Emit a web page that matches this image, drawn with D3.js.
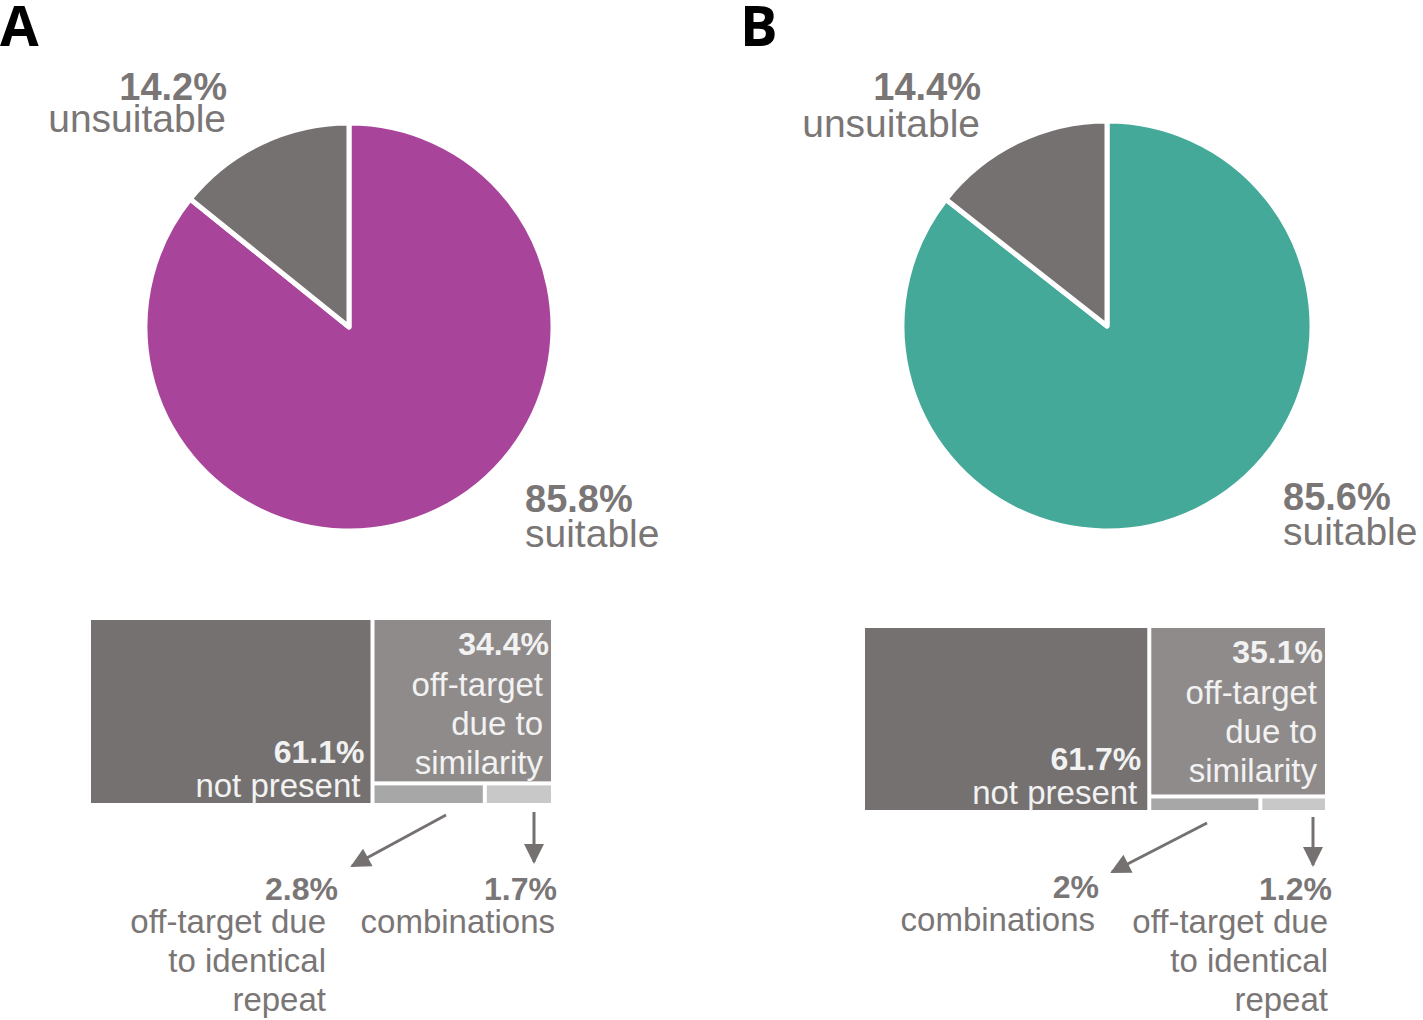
<!DOCTYPE html>
<html>
<head>
<meta charset="utf-8">
<script src="https://cdn.jsdelivr.net/npm/d3@7"></script>
<style>
  html, body { margin: 0; padding: 0; background: #fff; }
  svg { display: block; }
  text { font-family: "Liberation Sans", Arial, sans-serif; }
</style>
</head>
<body>
<svg id="chart" width="1423" height="1020"></svg>
<script>
// ---------------- data ----------------
const panelLetters = ["A", "B"];
const pieCategories = ["suitable", "unsuitable"];
const suitableValues = [85.8, 85.6];
const unsuitableValues = [14.2, 14.4];
const pieColors = ["#A8449A", "#45A99A"];

const notPresentValues = [61.1, 61.7];
const similarityValues = [34.4, 35.1];
const identicalValues = [2.8, 1.2];
const combinationValues = [1.7, 2.0];

const identicalLabel = ["off-target due", "to identical", "repeat"];
const combinationLabel = ["combinations"];
const similarityLabel = ["off-target", "due to", "similarity"];
const notPresentLabel = ["not present"];

// ---------------- layout ----------------
const GRAY = "#757171";
const TEXT_GRAY = "#7a7676";
const layout = [
  { letterX: 0, letterY: 46, cx: 349, cy: 327, r: 204,
    unsX: 227, unsY: [100, 132], suiX: 525, suiY: [512, 547],
    tmX: 91, tmY: 620, tmW: 460, tmH: 183,
    arrowL: [[355, 195], [261, 246]], arrowR: [[443, 192], [443, 242]],
    grp: [{ pctX: 247, lineX: 235, y0: 280 }, { pctX: 466, lineX: 464, y0: 280 }] },
  { letterX: 740, letterY: 46, cx: 1107, cy: 326, r: 205,
    unsX: 981, unsY: [100, 137], suiX: 1283, suiY: [510, 545],
    tmX: 865, tmY: 628, tmW: 460, tmH: 182,
    arrowL: [[342, 195], [247, 244]], arrowR: [[448, 189], [448, 237]],
    grp: [{ pctX: 234, lineX: 230, y0: 270 }, { pctX: 467, lineX: 463, y0: 272 }] }
];

const svg = d3.select("#chart");
const defs = svg.append("defs");
defs.append("marker")
  .attr("id", "arrowhead")
  .attr("viewBox", "0 0 10 10")
  .attr("refX", 9).attr("refY", 5)
  .attr("markerUnits", "userSpaceOnUse")
  .attr("markerWidth", 23).attr("markerHeight", 20)
  .attr("orient", "auto")
  .append("path").attr("d", "M0,0 L10,5 L0,10 Z").attr("fill", GRAY);

const fmt = v => d3.format(".1f")(v).replace(/\.0$/, "") + "%";

panelLetters.forEach((letter, i) => {
  const L = layout[i];
  const g = svg.append("g");

  // panel letter
  g.append("text")
    .attr("x", L.letterX).attr("y", L.letterY)
    .style("font-family", "'Open Sans', 'DejaVu Sans', sans-serif")
    .style("font-weight", 700).style("font-size", "56px")
    .attr("fill", "#000").text(letter);

  // ---- pie ----
  const pieData = [
    { key: pieCategories[0], value: suitableValues[i], color: pieColors[i] },
    { key: pieCategories[1], value: unsuitableValues[i], color: GRAY }
  ];
  const arcs = d3.pie().sort(null).value(d => d.value)(pieData);
  const arc = d3.arc().innerRadius(0).outerRadius(L.r);
  g.append("g").attr("transform", `translate(${L.cx},${L.cy})`)
    .selectAll("path").data(arcs).join("path")
    .attr("d", arc)
    .attr("fill", d => d.data.color)
    .attr("stroke", "#fff").attr("stroke-width", 5).attr("stroke-linejoin", "round");

  // pie labels
  g.append("text").attr("x", L.unsX).attr("y", L.unsY[0])
    .attr("text-anchor", "end").attr("fill", TEXT_GRAY)
    .style("font-weight", 700).style("font-size", "38px").text(fmt(unsuitableValues[i]));
  g.append("text").attr("x", L.unsX - 1).attr("y", L.unsY[1])
    .attr("text-anchor", "end").attr("fill", TEXT_GRAY)
    .style("font-size", "39px").text(pieCategories[1]);
  g.append("text").attr("x", L.suiX).attr("y", L.suiY[0])
    .attr("fill", TEXT_GRAY)
    .style("font-weight", 700).style("font-size", "38px").text(fmt(suitableValues[i]));
  g.append("text").attr("x", L.suiX).attr("y", L.suiY[1])
    .attr("fill", TEXT_GRAY)
    .style("font-size", "39px").text(pieCategories[0]);

  // ---- treemap ----
  const small = [
    { name: "identical", value: identicalValues[i], label: identicalLabel },
    { name: "combinations", value: combinationValues[i], label: combinationLabel }
  ].sort((a, b) => b.value - a.value);
  const tree = {
    name: "root",
    children: [
      { name: "notPresent", value: notPresentValues[i] },
      { name: "rest", children: [
        { name: "similarity", value: similarityValues[i] },
        { name: "small", children: small }
      ]}
    ]
  };
  const root = d3.hierarchy(tree).sum(d => d.value || 0);
  d3.treemap().tile(d3.treemapSliceDice).size([L.tmW, L.tmH]).paddingInner(4)(root);

  const fills = { notPresent: "#757171", similarity: "#8f8b8a" };
  const smallFills = ["#a8a7a7", "#c9c8c8"];
  const tg = g.append("g").attr("transform", `translate(${L.tmX},${L.tmY})`);
  const leaves = root.leaves();
  tg.selectAll("rect").data(leaves).join("rect")
    .attr("x", d => d.x0).attr("y", d => d.y0)
    .attr("width", d => d.x1 - d.x0).attr("height", d => d.y1 - d.y0)
    .attr("fill", d => fills[d.data.name] || smallFills[small.indexOf(d.data)]);

  const np = leaves.find(d => d.data.name === "notPresent");
  tg.append("text").attr("x", np.x1 - 6).attr("y", np.y1 - 40)
    .attr("text-anchor", "end").attr("fill", "#f2f2f2")
    .style("font-weight", 700).style("font-size", "32px").text(fmt(notPresentValues[i]));
  tg.append("text").attr("x", np.x1 - 10).attr("y", np.y1 - 6)
    .attr("text-anchor", "end").attr("fill", "#f2f2f2")
    .style("font-size", "33px").text(notPresentLabel[0]);

  const sim = leaves.find(d => d.data.name === "similarity");
  tg.append("text").attr("x", sim.x1 - 2).attr("y", sim.y0 + 35)
    .attr("text-anchor", "end").attr("fill", "#f2f2f2")
    .style("font-weight", 700).style("font-size", "32px").text(fmt(similarityValues[i]));
  similarityLabel.forEach((t, k) => {
    tg.append("text").attr("x", sim.x1 - 8).attr("y", sim.y0 + 76 + k * 39)
      .attr("text-anchor", "end").attr("fill", "#f2f2f2")
      .style("font-size", "33px").text(t);
  });

  // arrows
  [L.arrowL, L.arrowR].forEach(a => {
    tg.append("line")
      .attr("x1", a[0][0]).attr("y1", a[0][1])
      .attr("x2", a[1][0]).attr("y2", a[1][1])
      .attr("stroke", GRAY).attr("stroke-width", 3)
      .attr("marker-end", "url(#arrowhead)");
  });

  // labels below small boxes: left = larger small leaf, right = smaller
  small.forEach((item, k) => {
    const gr = L.grp[k];
    tg.append("text").attr("x", gr.pctX).attr("y", gr.y0)
      .attr("text-anchor", "end").attr("fill", TEXT_GRAY)
      .style("font-weight", 700).style("font-size", "32px").text(fmt(item.value));
    item.label.forEach((t, j) => {
      tg.append("text").attr("x", gr.lineX).attr("y", gr.y0 + 33 + j * 39)
        .attr("text-anchor", "end").attr("fill", TEXT_GRAY)
        .style("font-size", "33px").text(t);
    });
  });
});
</script>
</body>
</html>
